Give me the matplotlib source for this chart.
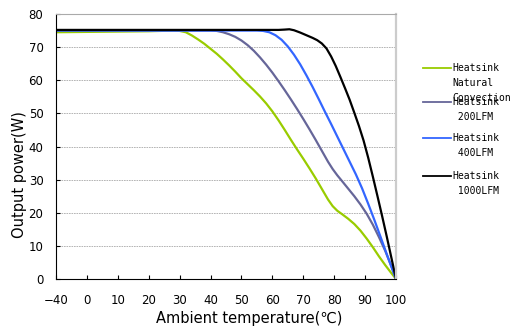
import numpy as np
import matplotlib
matplotlib.use("Agg")
from matplotlib import pyplot as plt
from matplotlib.lines import Line2D

plt.rcParams['font.family'] = ['DejaVu Sans', 'Noto Sans CJK SC']

# curve data (temperature in C, power in W)
green_t = [-40, 0, 20, 28, 30, 32, 34, 36, 38, 40, 42, 44, 46, 48, 50, 52, 54, 56, 58, 60, 62, 64, 66,
           68, 70, 72, 74, 76, 78, 79.5, 81, 82.5, 84.5, 86.5, 88.5, 90.5, 92.5, 94.5, 96.5, 98.3, 100]
green_p = [74.5, 74.6, 74.8, 75, 74.9, 74.5, 73.5, 72.3, 71.0, 69.5, 68, 66.3, 64.5, 62.6, 60.6, 58.8, 57,
           55.1, 53, 50.6, 47.9, 45, 42, 39.1, 36.3, 33.4, 30.4, 27.2, 24, 22, 20.6, 19.6, 18.2, 16.6, 14.6,
           12.2, 9.6, 6.8, 4.2, 2.0, 0]

purple_t = [-40, 40, 42, 44, 46, 48, 50, 52, 54, 56, 58, 60, 62, 64, 66, 68, 70, 72, 74, 76, 78, 79.5,
            81, 82.5, 84.5, 86.5, 88.5, 90.5, 92.5, 94.5, 96.5, 98.3, 100]
purple_p = [75, 75, 74.9, 74.5, 73.9, 73.1, 72.0, 70.6, 68.9, 66.9, 64.7, 62.3, 59.7, 57.0, 54.2, 51.3,
            48.3, 45.2, 42.0, 38.7, 35.4, 33.2, 31.3, 29.6, 27.3, 25.0, 22.5, 19.7, 16.4, 12.6, 8.5, 4.3, 0]

blue_t = [-40, 55, 57, 59, 61, 63, 65, 67, 69, 71, 73, 75, 77, 79, 81, 83, 85, 87, 89, 91, 93, 95, 97,
          98.5, 100]
blue_p = [75, 75, 74.9, 74.5, 73.6, 72.2, 70.2, 67.7, 64.8, 61.5, 58, 54.3, 50.5, 46.8, 43, 39.2, 35.4,
          31.6, 27.4, 22.7, 17.8, 12.7, 7.5, 3.7, 0]

black_t = [-40, 62, 64, 65.5, 67, 69, 71, 73, 74.5, 76, 77.5, 79, 80.5, 82, 83.5, 85, 86.5, 88, 89.5, 91,
           92.5, 94, 95.5, 97, 98.5, 100]
black_p = [75.2, 75.2, 75.3, 75.4, 75.1, 74.4, 73.6, 72.8, 72.1, 71.1, 69.6, 67.2, 64.3, 61, 57.6, 54.1,
           50.2, 46.2, 41.8, 36.6, 30.9, 25, 19, 12.8, 6.4, 0]

x_ticks = [-40, 0, 10, 20, 30, 40, 50, 60, 70, 80, 90, 100]
x_ticklabels = ["\u221240", "0", "10", "20", "30", "40", "50", "60", "70", "80", "90", "100"]
y_ticks = [0, 10, 20, 30, 40, 50, 60, 70, 80]

labels = ["Heatsink\nNatural\nConvection", "Heatsink\n 200LFM", "Heatsink\n 400LFM", "Heatsink\n 1000LFM"]
colors = ["#99cc00", "#666699", "#3366ff", "#000000"]


# -40..0 is squeezed into one tick step on this chart
def fwd(x):
    x = np.asarray(x, dtype=float)
    return np.where(x < 0, x / 4.0, x)


def inv(x):
    x = np.asarray(x, dtype=float)
    return np.where(x < 0, x * 4.0, x)


fig = plt.figure(figsize=(5.15, 3.29), dpi=100)
ax = fig.add_axes([0.1087, 0.152, 0.6603, 0.8054])
ax.set_xscale('function', functions=(fwd, inv))

series = [(green_t, green_p), (purple_t, purple_p), (blue_t, blue_p), (black_t, black_p)]
for (t, p), c in zip(series, colors):
    ax.plot(t, p, color=c, lw=1.6, solid_capstyle='round', solid_joinstyle='round')

ax.set_xlim(-40, 100)
ax.set_ylim(0, 80)
ax.set_xticks(x_ticks)
ax.set_yticks(y_ticks)
ax.set_xticklabels(x_ticklabels)
ax.tick_params(axis='x', direction='in', length=3, pad=11, labelsize=8.5)
ax.tick_params(axis='y', direction='in', length=3, pad=9, labelsize=8.5)

for yv in y_ticks[1:-1]:
    ax.axhline(yv, color='#aaaaaa', lw=0.6, ls=(0, (2, 1)), zorder=0)

ax.spines['left'].set_color('black')
ax.spines['bottom'].set_color('black')
ax.spines['top'].set_color('#aaaaaa')
ax.spines['right'].set_color('#cccccc')
ax.spines['right'].set_linewidth(1.6)

ax.set_xlabel("Ambient temperature(℃)", fontsize=10.5, labelpad=2.5)
ax.set_ylabel("Output power(W)", fontsize=10.5, labelpad=1)
ax.xaxis.label.set_x(0.568)
ax.yaxis.label.set_y(0.394)

# legend drawn by hand, the line sits on the first text row
leg_y = [68, 102, 138, 176]
H = 329.0
W = 515.0
for yy, lab, c in zip(leg_y, labels, colors):
    fy = 1 - yy / H
    fig.add_artist(Line2D([423 / W, 451 / W], [fy, fy], color=c, lw=1.3))
    fig.text(452 / W, fy + 5 / H, lab, family='DejaVu Sans Mono', fontsize=7,
             va='top', ha='left', linespacing=1.65)

fig.savefig("out.png", dpi=100)
